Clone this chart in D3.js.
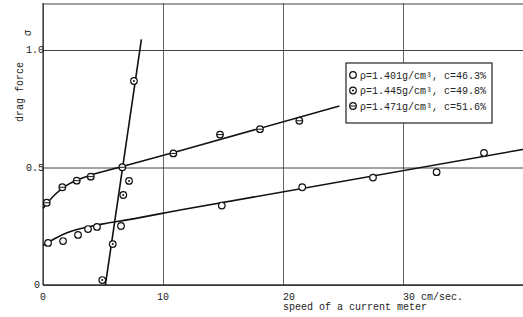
<!DOCTYPE html>
<html>
<head>
<meta charset="utf-8">
<script src="https://cdn.jsdelivr.net/npm/d3@7"></script>
<style>
body { margin: 0; background: #fff; }
text { font-family: "Liberation Mono", "DejaVu Sans Mono", monospace; font-size: 10px; fill: #222; }
</style>
</head>
<body>
<svg id="chart" width="523" height="317"></svg>
<script>
// axis ticks
const xTicks = [0, 10, 20, 30];
const xTickLabels = ['0', '10', '20', '30 cm/sec.'];
const yTicks = [0, 0.5, 1.0];
const yTickLabels = ['0', '0.5', '1.0'];

// legend entries
const legendLabels = [
    'ρ=1.401g/cm³, c=46.3%',
    'ρ=1.445g/cm³, c=49.8%',
    'ρ=1.471g/cm³, c=51.6%'
];
const legendMarks = ['open', 'dot', 'bar'];

// measured points [speed, drag force]
const pts1401 = [[0.42, 0.179], [1.67, 0.187], [2.92, 0.213], [3.75, 0.238], [4.5, 0.247],
    [6.5, 0.251], [14.9, 0.338], [21.6, 0.416], [27.5, 0.457], [32.8, 0.48], [36.75, 0.562]];
const pts1445 = [[4.94, 0.021], [5.81, 0.174], [6.69, 0.383], [7.17, 0.443], [7.58, 0.868]];
const pts1471 = [[0.31, 0.35], [1.61, 0.416], [2.81, 0.444], [3.98, 0.461], [6.61, 0.501],
    [10.86, 0.56], [14.75, 0.64], [18.08, 0.663], [21.36, 0.699]];

// hand-drawn fitted curves
const fit1401 = [[0, 0.168], [1, 0.198], [2, 0.222], [3, 0.238], [4, 0.25], [5, 0.26],
    [7, 0.277], [11.42, 0.319], [40, 0.577]];
const fit1445 = [[5.2, 0], [8.2, 1.045]];
const fit1471 = [[0, 0.326], [1, 0.385], [2, 0.425], [3, 0.45], [4, 0.468], [6.6, 0.504],
    [11.42, 0.571], [24.7, 0.762]];

const svg = d3.select('#chart');
const m = { left: 43, right: 523, top: 3, bottom: 285 };

const x = d3.scaleLinear().domain([0, 40]).range([m.left, m.right]);
const y = d3.scaleLinear().domain([0, 1.2]).range([m.bottom, m.top]);

// grid
const gx = svg.append('g')
    .attr('transform', `translate(0,${m.bottom})`)
    .call(d3.axisBottom(x).tickValues(xTicks).tickSize(-(m.bottom - m.top)).tickFormat(''));
gx.select('.domain').remove();
gx.selectAll('.tick line').attr('stroke', '#666').attr('stroke-width', 1);

const gy = svg.append('g')
    .attr('transform', `translate(${m.left},0)`)
    .call(d3.axisLeft(y).tickValues(yTicks).tickSize(-(m.right - m.left)).tickFormat(''));
gy.select('.domain').remove();
gy.selectAll('.tick line').attr('stroke', '#444').attr('stroke-width', 1);

// frame
svg.append('line').attr('x1', m.left).attr('x2', m.left).attr('y1', m.top).attr('y2', m.bottom)
    .attr('stroke', '#333').attr('stroke-width', 1.2);
svg.append('line').attr('x1', m.left).attr('x2', m.right).attr('y1', m.bottom).attr('y2', m.bottom)
    .attr('stroke', '#333').attr('stroke-width', 1.5);
svg.append('line').attr('x1', m.left).attr('x2', m.right).attr('y1', m.top + 1).attr('y2', m.top + 1)
    .attr('stroke', '#444').attr('stroke-width', 1.2);

// tick labels
svg.selectAll('.xlab')
    .data(xTicks)
    .join('text')
    .attr('x', d => x(d))
    .attr('y', 300)
    .attr('text-anchor', d => d < 20 ? 'middle' : 'start')
    .text((d, i) => xTickLabels[i]);

svg.selectAll('.ylab')
    .data(yTicks)
    .join('text')
    .attr('x', d => d === 0 ? 40 : 44)
    .attr('y', d => y(d) + 3)
    .attr('text-anchor', 'end')
    .text((d, i) => yTickLabels[i]);

svg.append('text').attr('x', x(20)).attr('y', 310).text('speed of a current meter');

svg.append('text')
    .attr('transform', 'translate(23,92) rotate(-90)')
    .attr('text-anchor', 'middle')
    .text('drag force');
svg.append('text')
    .attr('transform', 'translate(31,33) rotate(-90)')
    .attr('text-anchor', 'middle')
    .text('σ');

// curves
const line = d3.line().x(d => x(d[0])).y(d => y(d[1])).curve(d3.curveMonotoneX);
[fit1401, fit1445, fit1471].forEach(f => {
    svg.append('path')
        .attr('d', line(f))
        .attr('fill', 'none')
        .attr('stroke', '#111')
        .attr('stroke-width', 1.6);
});

// markers
function marker(g, kind) {
    g.append('circle').attr('r', 3.3).attr('fill', '#fff').attr('stroke', '#111').attr('stroke-width', 1.2);
    if (kind === 'dot') {
        g.append('circle').attr('r', 1).attr('fill', '#111');
    } else if (kind === 'bar') {
        g.append('line').attr('x1', -3.3).attr('x2', 3.3).attr('stroke', '#111').attr('stroke-width', 1);
    }
}

[[pts1401, 'open'], [pts1445, 'dot'], [pts1471, 'bar']].forEach(([pts, kind]) => {
    svg.append('g')
        .selectAll('g')
        .data(pts)
        .join('g')
        .attr('transform', d => `translate(${x(d[0])},${y(d[1])})`)
        .each(function() { marker(d3.select(this), kind); });
});

// legend
const legend = svg.append('g');
legend.append('rect')
    .attr('x', 346).attr('y', 63).attr('width', 146).attr('height', 60)
    .attr('fill', '#fff').attr('stroke', '#222').attr('stroke-width', 1.2);
legendLabels.forEach((lab, i) => {
    const row = legend.append('g').attr('transform', `translate(353,${75 + i * 15.5})`);
    marker(row, legendMarks[i]);
    row.append('text').attr('x', 7).attr('y', 3.5).text(lab);
});
</script>
</body>
</html>
